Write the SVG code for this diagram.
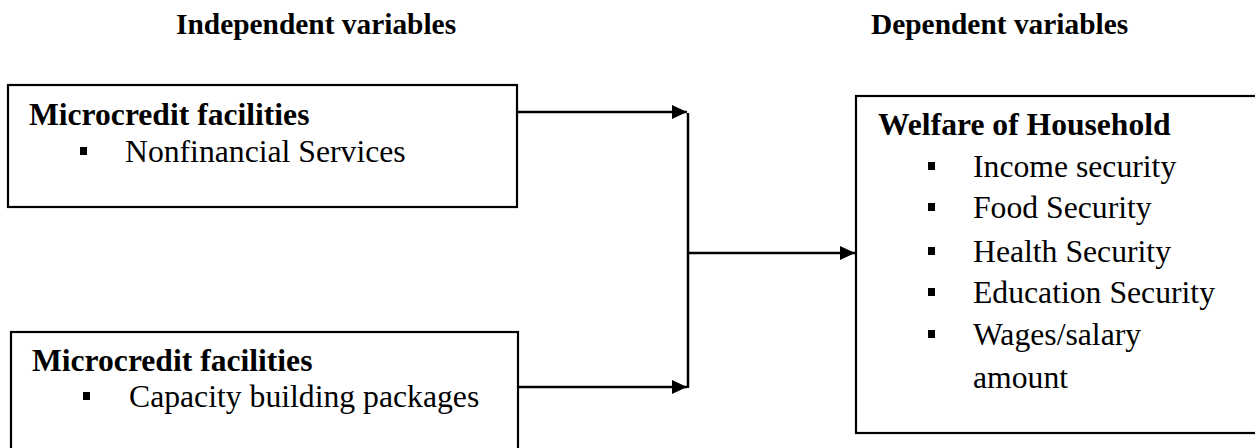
<svg xmlns="http://www.w3.org/2000/svg" width="1255" height="448" viewBox="0 0 1255 448">
<defs>
<style>
.h{font-family:"Liberation Serif","Times New Roman",serif;font-weight:bold;font-size:29.4px;fill:#000}
.b{font-family:"Liberation Serif","Times New Roman",serif;font-weight:bold;font-size:31.6px;fill:#000}
.r{font-family:"Liberation Serif","Times New Roman",serif;font-size:31.7px;fill:#000}
.box{fill:#fff;stroke:#000;stroke-width:2.2}
.ln{fill:none;stroke:#000;stroke-width:2.5}
.blt{fill:#000}
</style>
<marker id="ah" viewBox="0 0 15 14" refX="15" refY="7" markerWidth="15" markerHeight="14" markerUnits="userSpaceOnUse" orient="auto">
<path d="M0,0 L15,7 L0,14 Z" fill="#000"/>
</marker>
</defs>
<rect width="1255" height="448" fill="#fff"/>
<g id="headers">
<text class="h" x="176" y="34">Independent variables</text>
<text class="h" x="871" y="34">Dependent variables</text>
</g>
<g id="node-nonfinancial">
<rect class="box" x="8" y="85" width="509" height="122"/>
<text class="b" x="29" y="125">Microcredit facilities</text>
<rect class="blt" x="80" y="147" width="7" height="8"/>
<text class="r" x="125" y="162">Nonfinancial Services</text>
</g>
<g id="node-capacity">
<rect class="box" x="11" y="332" width="507" height="130"/>
<text class="b" x="32" y="371">Microcredit facilities</text>
<rect class="blt" x="83" y="392" width="7" height="8"/>
<text class="r" x="129" y="407">Capacity building packages</text>
</g>
<g id="node-welfare">
<rect class="box" x="856" y="96" width="410" height="337"/>
<text class="b" x="878" y="135">Welfare of Household</text>
<rect class="blt" x="928" y="162" width="7" height="8"/>
<text class="r" x="973" y="177">Income security</text>
<rect class="blt" x="928" y="203" width="7" height="8"/>
<text class="r" x="973" y="218">Food Security</text>
<rect class="blt" x="928" y="247" width="7" height="8"/>
<text class="r" x="973" y="262">Health Security</text>
<rect class="blt" x="928" y="288" width="7" height="8"/>
<text class="r" x="973" y="303">Education Security</text>
<rect class="blt" x="928" y="330" width="7" height="8"/>
<text class="r" x="973" y="345">Wages/salary</text>
<text class="r" x="973" y="388">amount</text>
</g>
<g id="connectors">
<line class="ln" x1="518" y1="112" x2="687" y2="112" marker-end="url(#ah)"/>
<line class="ln" x1="518" y1="387" x2="687" y2="387" marker-end="url(#ah)"/>
<line class="ln" x1="688" y1="113" x2="688" y2="388"/>
<line class="ln" x1="688" y1="253" x2="855" y2="253" marker-end="url(#ah)"/>
</g>
</svg>
